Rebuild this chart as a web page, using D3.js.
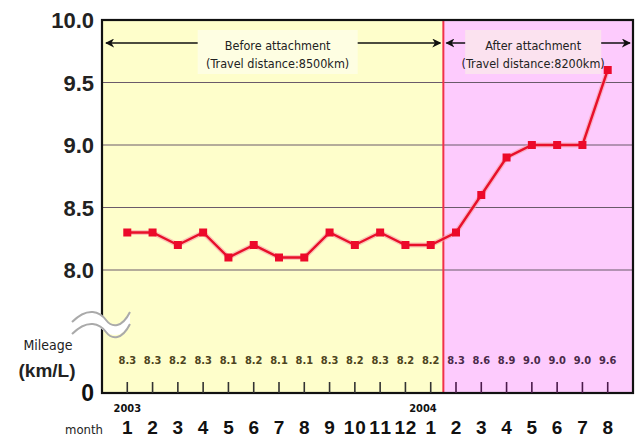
<!DOCTYPE html>
<html>
<head>
<meta charset="utf-8">
<script src="https://cdn.jsdelivr.net/npm/d3@7"></script>
<style>
  body { margin: 0; background: #fff; }
  svg { display: block; }
  text { font-family: "Liberation Sans Narrow", "DejaVu Sans Condensed", "Liberation Sans", sans-serif; }
</style>
</head>
<body>
<svg id="chart" width="639" height="437"></svg>
<script>
// month labels and mileage values (km/L)
var months = ["1","2","3","4","5","6","7","8","9","10","11","12","1","2","3","4","5","6","7","8"];
var mileage = [8.3,8.3,8.2,8.3,8.1,8.2,8.1,8.1,8.3,8.2,8.3,8.2,8.2,8.3,8.6,8.9,9.0,9.0,9.0,9.6];
var yTicks = [8.0, 8.5, 9.0, 9.5, 10.0];
var beforeCount = 13; // 2003/1 .. 2004/1
var periodLabels = [
	["Before attachment", "(Travel distance:8500km)"],
	["After attachment", "(Travel distance:8200km)"]
];

(function() {
var svg = d3.select("#chart");
var left = 102, right = 633, plotTop = 20, bottom = 393;

var x = d3.scalePoint()
	.domain(d3.range(months.length))
	.range([left, right])
	.padding(1);

var y = d3.scaleLinear()
	.domain([8.0, 10.0])
	.range([270, plotTop]);

var divX = (x(beforeCount - 1) + x(beforeCount)) / 2;

// backgrounds
svg.append("rect").attr("x", left).attr("y", plotTop).attr("width", divX - left).attr("height", bottom - plotTop)
	.attr("fill", "#fefecb");
svg.append("rect").attr("x", divX).attr("y", plotTop).attr("width", right - divX).attr("height", bottom - plotTop)
	.attr("fill", "#fdcbfd");

// gridlines
svg.selectAll("line.grid").data(yTicks).enter().append("line")
	.attr("class", "grid")
	.attr("x1", left).attr("x2", right)
	.attr("y1", function(d) { return y(d); }).attr("y2", function(d) { return y(d); })
	.attr("stroke", "#6a5a6a").attr("stroke-width", 1.2);

// y labels
svg.selectAll("text.ylab").data(yTicks).enter().append("text")
	.attr("class", "ylab")
	.attr("x", 94).attr("y", function(d) { return y(d) + 8; })
	.attr("text-anchor", "end")
	.style("font-family", "'Liberation Sans', Arial, sans-serif")
	.attr("font-size", 22).attr("font-weight", "bold").attr("fill", "#222")
	.text(function(d) { return d.toFixed(1); });
svg.append("text").attr("x", 94).attr("y", bottom + 8).attr("text-anchor", "end")
	.style("font-family", "'Liberation Sans', Arial, sans-serif")
	.attr("font-size", 23).attr("font-weight", "bold").attr("fill", "#111").text("0");

// divider
svg.append("line").attr("x1", divX).attr("x2", divX).attr("y1", plotTop).attr("y2", bottom)
	.attr("stroke", "#f0304a").attr("stroke-width", 2);

// frame
svg.append("rect").attr("x", left).attr("y", plotTop).attr("width", right - left).attr("height", bottom - plotTop)
	.attr("fill", "none").attr("stroke", "#111").attr("stroke-width", 2.2);

// bottom ticks
svg.selectAll("line.tick").data(months).enter().append("line")
	.attr("class", "tick")
	.attr("x1", function(d, i) { return x(i); }).attr("x2", function(d, i) { return x(i); })
	.attr("y1", 382).attr("y2", bottom)
	.attr("stroke", function(d, i) { return i < beforeCount ? "#333" : "#4a1a4a"; })
	.attr("stroke-width", 1.6);

// value row
svg.selectAll("text.val").data(mileage).enter().append("text")
	.attr("class", "val")
	.attr("x", function(d, i) { return x(i); }).attr("y", 364)
	.attr("text-anchor", "middle")
	.attr("font-size", 11).attr("font-weight", "bold")
	.attr("fill", function(d, i) { return i < beforeCount ? "#4d4420" : "#4a2a4a"; })
	.text(function(d) { return d.toFixed(1); });

// axis break
var breakG = svg.append("g");
var wave = function(yy) {
	return "M72," + (yy + 4) + " C88," + (yy - 12) + " 100," + (yy - 6) + " 106," + (yy + 2) +
		" S122," + (yy + 10) + " 130," + (yy - 6);
};
breakG.append("path")
	.attr("d", wave(318) + " L130,324 C122,338 112,336 106,332 S88,318 72,334 Z")
	.attr("fill", "#fff").attr("stroke", "none");
breakG.append("path").attr("d", wave(318)).attr("fill", "none").attr("stroke", "#aaa").attr("stroke-width", 2);
breakG.append("path").attr("d", wave(330)).attr("fill", "none").attr("stroke", "#aaa").attr("stroke-width", 2);

// y-axis title
svg.append("text").attr("x", 48).attr("y", 350).attr("text-anchor", "middle")
	.attr("font-size", 14).attr("fill", "#222").text("Mileage");
svg.append("text").attr("x", 47).attr("y", 377).attr("text-anchor", "middle")
	.style("font-family", "'Liberation Sans', Arial, sans-serif")
	.attr("font-size", 19).attr("font-weight", "bold").attr("fill", "#222").text("(km/L)");

// month labels
svg.selectAll("text.month").data(months).enter().append("text")
	.attr("class", "month")
	.attr("x", function(d, i) { return x(i); }).attr("y", 434)
	.attr("text-anchor", "middle")
	.style("font-family", "'Liberation Sans', Arial, sans-serif")
	.attr("font-size", 19).attr("font-weight", "bold").attr("fill", "#111")
	.attr("textLength", function(d) { return d.length > 1 ? 22 : null; })
	.text(function(d) { return d; });
svg.append("text").attr("x", 84).attr("y", 434).attr("text-anchor", "middle")
	.attr("font-size", 13).attr("fill", "#222").text("month");
svg.append("text").attr("x", x(0)).attr("y", 412).attr("text-anchor", "middle")
	.attr("font-size", 11).attr("font-weight", "bold").attr("fill", "#111").text("2003");
svg.append("text").attr("x", x(beforeCount - 1) + 6).attr("y", 412).attr("text-anchor", "end")
	.attr("font-size", 11).attr("font-weight", "bold").attr("fill", "#111").text("2004");

// period annotations
var periods = [
	{ x0: left + 4, x1: divX - 3, cx: (left + divX) / 2 + 5, boxW: 160, fill: "#fefee2", lab: periodLabels[0] },
	{ x0: divX + 3, x1: right - 3, cx: (divX + right) / 2 - 5, boxW: 136, fill: "#fbe2ef", lab: periodLabels[1] }
];
svg.append("defs").append("marker")
	.attr("id", "ah").attr("viewBox", "0 0 10 10").attr("refX", 9).attr("refY", 5)
	.attr("markerWidth", 9).attr("markerHeight", 9).attr("orient", "auto-start-reverse")
	.attr("markerUnits", "userSpaceOnUse")
	.append("path").attr("d", "M0,0 L10,5 L0,10 L3,5 Z").attr("fill", "#111");
periods.forEach(function(p) {
	svg.append("line").attr("x1", p.x0).attr("x2", p.x1).attr("y1", 43).attr("y2", 43)
		.attr("stroke", "#111").attr("stroke-width", 1.6)
		.attr("marker-start", "url(#ah)").attr("marker-end", "url(#ah)");
	svg.append("rect").attr("x", p.cx - p.boxW / 2).attr("y", 30).attr("width", p.boxW).attr("height", 44)
		.attr("fill", p.fill);
	svg.append("text").attr("x", p.cx).attr("y", 50).attr("text-anchor", "middle")
		.attr("font-size", 12.5).attr("fill", "#222").text(p.lab[0]);
	svg.append("text").attr("x", p.cx).attr("y", 68).attr("text-anchor", "middle")
		.attr("font-size", 12.5).attr("fill", "#222").text(p.lab[1]);
});

// line and markers
var line = d3.line()
	.x(function(d, i) { return x(i); })
	.y(function(d) { return y(d); });
svg.append("path").datum(mileage).attr("d", line)
	.attr("fill", "none").attr("stroke", "#f7a0a8").attr("stroke-width", 5).attr("opacity", 0.6);
svg.append("path").datum(mileage).attr("d", line)
	.attr("fill", "none").attr("stroke", "#e8102a").attr("stroke-width", 2.4);
svg.selectAll("rect.pt").data(mileage).enter().append("rect")
	.attr("class", "pt")
	.attr("x", function(d, i) { return x(i) - 4; }).attr("y", function(d) { return y(d) - 4; })
	.attr("width", 8).attr("height", 8)
	.attr("fill", "#ec0a2a");
})();
</script>
</body>
</html>
